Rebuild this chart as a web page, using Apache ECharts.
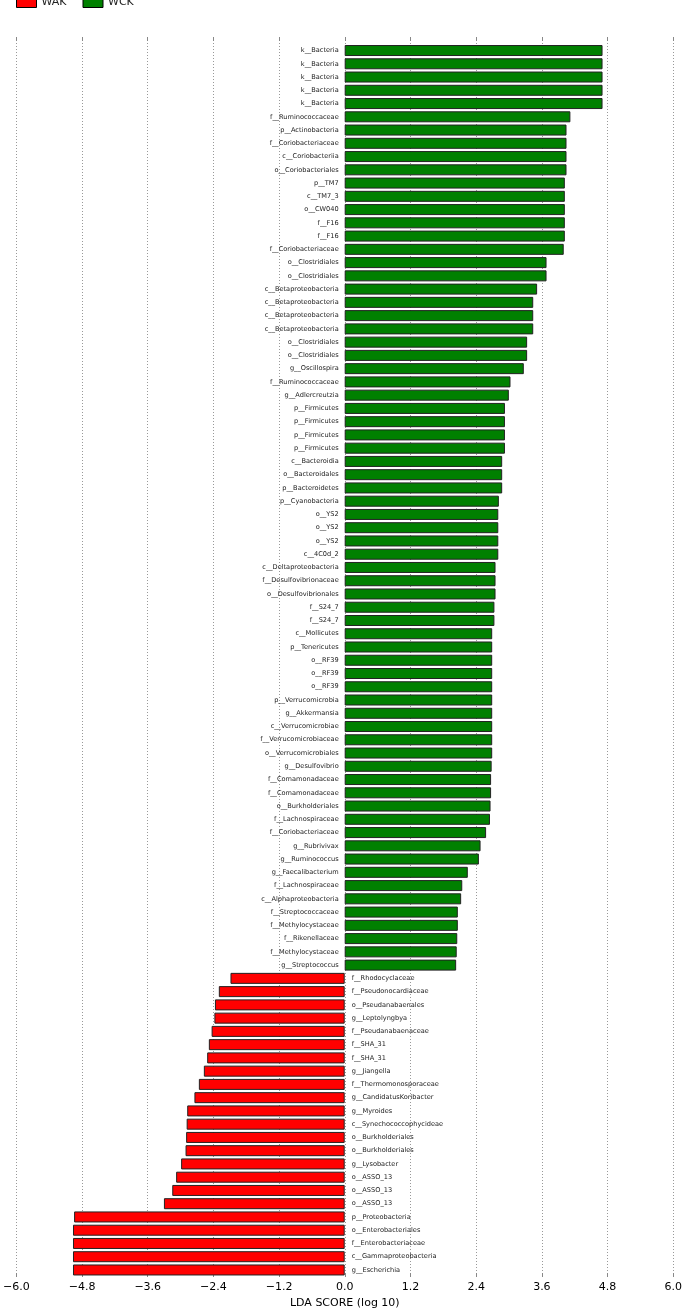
<!DOCTYPE html>
<html>
<head>
<meta charset="utf-8">
<script src="https://cdn.jsdelivr.net/npm/echarts@6/dist/echarts.min.js"></script>
<style>
html,body{margin:0;padding:0;background:#fff;}
#chart{width:685px;height:1314px;}
</style>
</head>
<body>
<div id="chart"></div>
<script>
// WCK (positive LDA scores), top to bottom
const wckNames = [
  'k__Bacteria','k__Bacteria','k__Bacteria','k__Bacteria','k__Bacteria',
  'f__Ruminococcaceae','p__Actinobacteria','f__Coriobacteriaceae','c__Coriobacteriia','o__Coriobacteriales',
  'p__TM7','c__TM7_3','o__CW040','f__F16','f__F16','f__Coriobacteriaceae',
  'o__Clostridiales','o__Clostridiales',
  'c__Betaproteobacteria','c__Betaproteobacteria','c__Betaproteobacteria','c__Betaproteobacteria',
  'o__Clostridiales','o__Clostridiales','g__Oscillospira','f__Ruminococcaceae','g__Adlercreutzia',
  'p__Firmicutes','p__Firmicutes','p__Firmicutes','p__Firmicutes',
  'c__Bacteroidia','o__Bacteroidales','p__Bacteroidetes','p__Cyanobacteria',
  'o__YS2','o__YS2','o__YS2','c__4C0d_2',
  'c__Deltaproteobacteria','f__Desulfovibrionaceae','o__Desulfovibrionales',
  'f__S24_7','f__S24_7','c__Mollicutes','p__Tenericutes',
  'o__RF39','o__RF39','o__RF39',
  'p__Verrucomicrobia','g__Akkermansia','c__Verrucomicrobiae','f__Verrucomicrobiaceae','o__Verrucomicrobiales',
  'g__Desulfovibrio','f__Comamonadaceae','f__Comamonadaceae','o__Burkholderiales','f__Lachnospiraceae',
  'f__Coriobacteriaceae','g__Rubrivivax','g__Ruminococcus','g__Faecalibacterium','f__Lachnospiraceae',
  'c__Alphaproteobacteria','f__Streptococcaceae','f__Methylocystaceae','f__Rikenellaceae','f__Methylocystaceae',
  'g__Streptococcus'
];
const wckValues = [
  4.65,4.65,4.65,4.65,4.65,
  4.07,4.00,4.00,4.00,4.00,
  3.97,3.97,3.97,3.97,3.97,3.95,
  3.64,3.64,
  3.47,3.40,3.40,3.40,
  3.29,3.29,3.23,2.99,2.96,
  2.89,2.89,2.89,2.89,
  2.84,2.84,2.84,2.78,
  2.77,2.77,2.77,2.77,
  2.72,2.72,2.72,
  2.70,2.70,2.66,2.66,
  2.66,2.66,2.66,
  2.66,2.66,2.66,2.66,2.66,
  2.65,2.64,2.64,2.63,2.62,
  2.55,2.45,2.42,2.22,2.12,
  2.10,2.04,2.04,2.03,2.02,
  2.01
];
// WAK (negative LDA scores), top to bottom
const wakNames = [
  'f__Rhodocyclaceae','f__Pseudonocardiaceae','o__Pseudanabaenales','g__Leptolyngbya','f__Pseudanabaenaceae',
  'f__SHA_31','f__SHA_31','g__Jiangella','f__Thermomonosporaceae','g__CandidatusKoribacter',
  'g__Myroides','c__Synechococcophycideae','o__Burkholderiales','o__Burkholderiales','g__Lysobacter',
  'o__ASSO_13','o__ASSO_13','o__ASSO_13',
  'p__Proteobacteria','o__Enterobacteriales','f__Enterobacteriaceae','c__Gammaproteobacteria','g__Escherichia'
];
const wakValues = [
  -2.06,-2.27,-2.34,-2.35,-2.40,
  -2.45,-2.48,-2.54,-2.63,-2.71,
  -2.84,-2.85,-2.86,-2.87,-2.95,
  -3.04,-3.11,-3.26,
  -4.88,-4.90,-4.90,-4.90,-4.90
];
const xTicks = [-6.0,-4.8,-3.6,-2.4,-1.2,0.0,1.2,2.4,3.6,4.8,6.0];

const categories = wckNames.concat(wakNames);
const wckData = wckValues.concat(wakNames.map(() => '-'));
const wakData = wckNames.map(() => '-').concat(wakValues);

const FONT = 'DejaVu Sans';
const chart = echarts.init(document.getElementById('chart'), null, {renderer: 'canvas'});
chart.setOption({
  animation: false,
  backgroundColor: '#ffffff',
  textStyle: {fontFamily: FONT},
  legend: {
    left: 11, top: -8,
    icon: 'rect', itemWidth: 20, itemHeight: 10, itemGap: 16,
    textStyle: {fontFamily: FONT, fontSize: 11, color: '#222'},
    itemStyle: {borderColor: '#000', borderWidth: 1},
    data: ['WAK', 'WCK']
  },
  grid: [
    {left: 12, right: 7.6, top: 43.9, height: 1232.7},
    {left: 12, right: 7.6, top: 37, bottom: 32}
  ],
  xAxis: [
    {gridIndex: 0, type: 'value', min: -6, max: 6, show: false},
    {
      gridIndex: 1, type: 'value', position: 'bottom', min: -6, max: 6, interval: 1.2,
      axisLine: {show: false},
      axisTick: {show: true, inside: true, length: 4, lineStyle: {color: '#888'}},
      splitLine: {show: true, lineStyle: {type: [1, 2], color: '#999', width: 1}},
      axisLabel: {
        margin: 5, fontSize: 11, color: '#000', fontFamily: FONT,
        formatter: v => {
          const near = xTicks.reduce((a, b) => Math.abs(b - v) < Math.abs(a - v) ? b : a);
          return (near < 0 ? '\u2212' : '') + Math.abs(near).toFixed(1);
        }
      },
      name: 'LDA SCORE (log 10)', nameLocation: 'middle', nameGap: 21,
      nameTextStyle: {fontSize: 11, color: '#000', fontFamily: FONT}
    },
    {
      gridIndex: 1, type: 'value', position: 'top', min: -6, max: 6, interval: 1.2,
      axisLine: {show: false},
      axisTick: {show: true, inside: true, length: 4, lineStyle: {color: '#888'}},
      splitLine: {show: false},
      axisLabel: {show: false}
    }
  ],
  yAxis: [
    {gridIndex: 0, type: 'category', data: categories, inverse: true, show: false},
    {gridIndex: 1, type: 'value', min: 0, max: 1, show: false}
  ],
  series: [
    {
      name: 'WAK', type: 'bar', xAxisIndex: 0, yAxisIndex: 0,
      data: wakData, barWidth: '83%', barGap: '-100%',
      itemStyle: {color: '#ff0000', borderColor: '#222', borderWidth: 1},
      label: {show: true, position: 'right', distance: 7, formatter: '{b}',
              fontSize: 6.6, fontFamily: FONT, color: '#222'}
    },
    {
      name: 'WCK', type: 'bar', xAxisIndex: 0, yAxisIndex: 0,
      data: wckData, barWidth: '83%', barGap: '-100%',
      itemStyle: {color: '#008000', borderColor: '#222', borderWidth: 1},
      label: {show: true, position: 'left', distance: 6, formatter: '{b}',
              fontSize: 6.6, fontFamily: FONT, color: '#222'}
    }
  ]
});
</script>
</body>
</html>
